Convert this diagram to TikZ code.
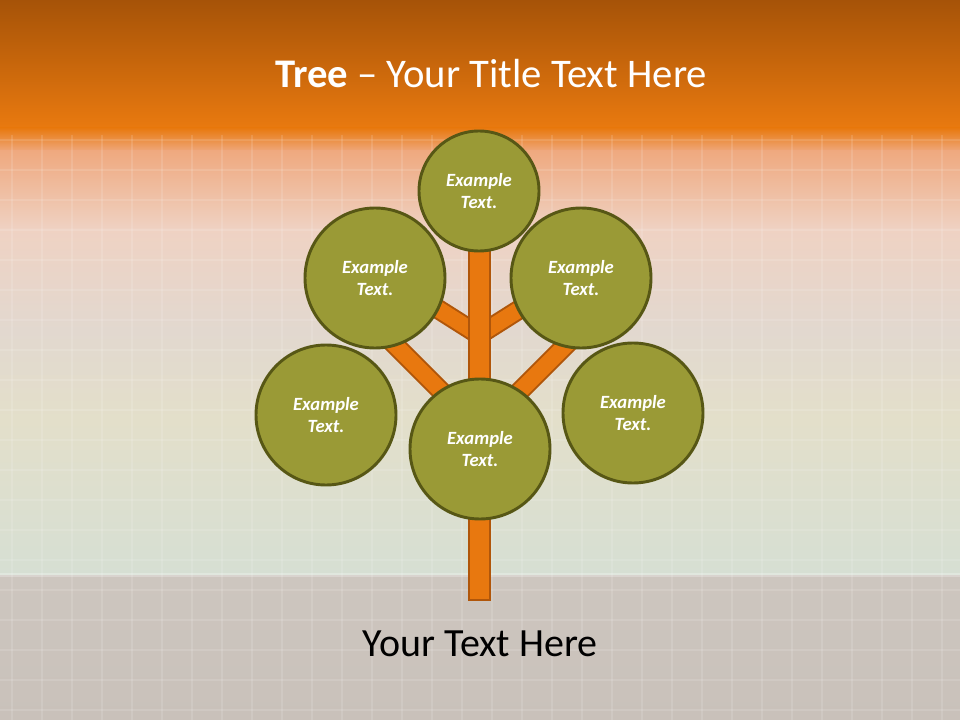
\documentclass[tikz,border=0pt]{standalone}
\usepackage{fontspec}
\setmainfont{Carlito}
\definecolor{bandtop}{HTML}{A65308}
\definecolor{bandbot}{HTML}{E8790F}
\definecolor{peach}{HTML}{EFA97F}
\definecolor{lightpeach}{HTML}{EFD2C3}
\definecolor{beige}{HTML}{E2D8CF}
\definecolor{yellowish}{HTML}{E3DFCA}
\definecolor{greenish}{HTML}{D6DFD3}
\definecolor{floorgray}{HTML}{CDC6BF}
\definecolor{floorgray2}{HTML}{C9C1BA}
\definecolor{leaf}{HTML}{9A9A36}
\definecolor{leafline}{HTML}{575715}
\definecolor{branch}{HTML}{E8780F}
\definecolor{branchline}{HTML}{B0560A}
\tikzset{
  leafnode/.style={circle, fill=leaf, draw=leafline, line width=2.2pt, minimum size=#1, inner sep=0pt,
    text=white, align=center, font=\fontsize{14}{17}\selectfont\bfseries\itshape},
  branchouter/.style={draw=branchline, line width=15pt, line cap=butt},
  branchinner/.style={draw=branch, line width=12pt, line cap=butt},
  trunkbox/.style={fill=branch, draw=branchline, line width=1.6pt},
  gridline/.style={draw=white, opacity=0.12, line width=0.8pt}
}
\begin{document}
\begin{tikzpicture}[x=0.75pt,y=-0.75pt]
\useasboundingbox (0,0) rectangle (960,720);
% background
\shade[top color=bandtop, bottom color=bandbot] (0,0) rectangle (960,126);
\fill[bandbot] (0,125) rectangle (960,129);
\shade[top color=bandbot, bottom color=peach] (0,128) rectangle (960,152);
\shade[top color=peach, bottom color=lightpeach] (0,151) rectangle (960,230);
\shade[top color=lightpeach, bottom color=beige] (0,229) rectangle (960,330);
\shade[top color=beige, bottom color=yellowish] (0,329) rectangle (960,420);
\shade[top color=yellowish, bottom color=greenish] (0,419) rectangle (960,576);
\shade[top color=floorgray, bottom color=floorgray2] (0,575) rectangle (960,720);
\fill[white, opacity=0.25] (0,573) rectangle (960,577);
% faint grid
\foreach \gx in {12,42,...,960} {\draw[gridline] (\gx,135) -- (\gx,720);}
\foreach \gy in {140,170,...,720} {\draw[gridline] (0,\gy) -- (960,\gy);}
% branch coordinates
\coordinate (jl) at (479,335);
\coordinate (sl) at (430,304);
\coordinate (sr) at (528,304);
\coordinate (bl0) at (460,410);
\coordinate (bl1) at (390,340);
\coordinate (br0) at (501,410);
\coordinate (br1) at (571,340);
\coordinate (ttop) at (469,245);
\coordinate (tbot) at (490,600);
% branches
\foreach \a/\b in {jl/sl, jl/sr, bl0/bl1, br0/br1} {
  \draw[branchouter] (\a) -- (\b);
  \draw[branchinner] (\a) -- (\b);
}
\draw[trunkbox] (ttop) rectangle (tbot);
% leaves
\node[leafnode=90pt] (top) at (479,191) {Example\\Text.};
\node[leafnode=105pt] (ul) at (375,278) {Example\\Text.};
\node[leafnode=105pt] (ur) at (581,278) {Example\\Text.};
\node[leafnode=105pt] (ll) at (326,415) {Example\\Text.};
\node[leafnode=105pt] (cc) at (480,449) {Example\\Text.};
\node[leafnode=105pt] (lr) at (633,413) {Example\\Text.};
% texts
\node[anchor=base, text=white, font=\fontsize{30.5}{36}\selectfont] (title) at (491,88) {\textbf{Tree} – Your Title Text Here};
\node[anchor=base, text=black, font=\fontsize{30}{36}\selectfont] (foot) at (480,656) {Your Text Here};
\end{tikzpicture}
\end{document}
